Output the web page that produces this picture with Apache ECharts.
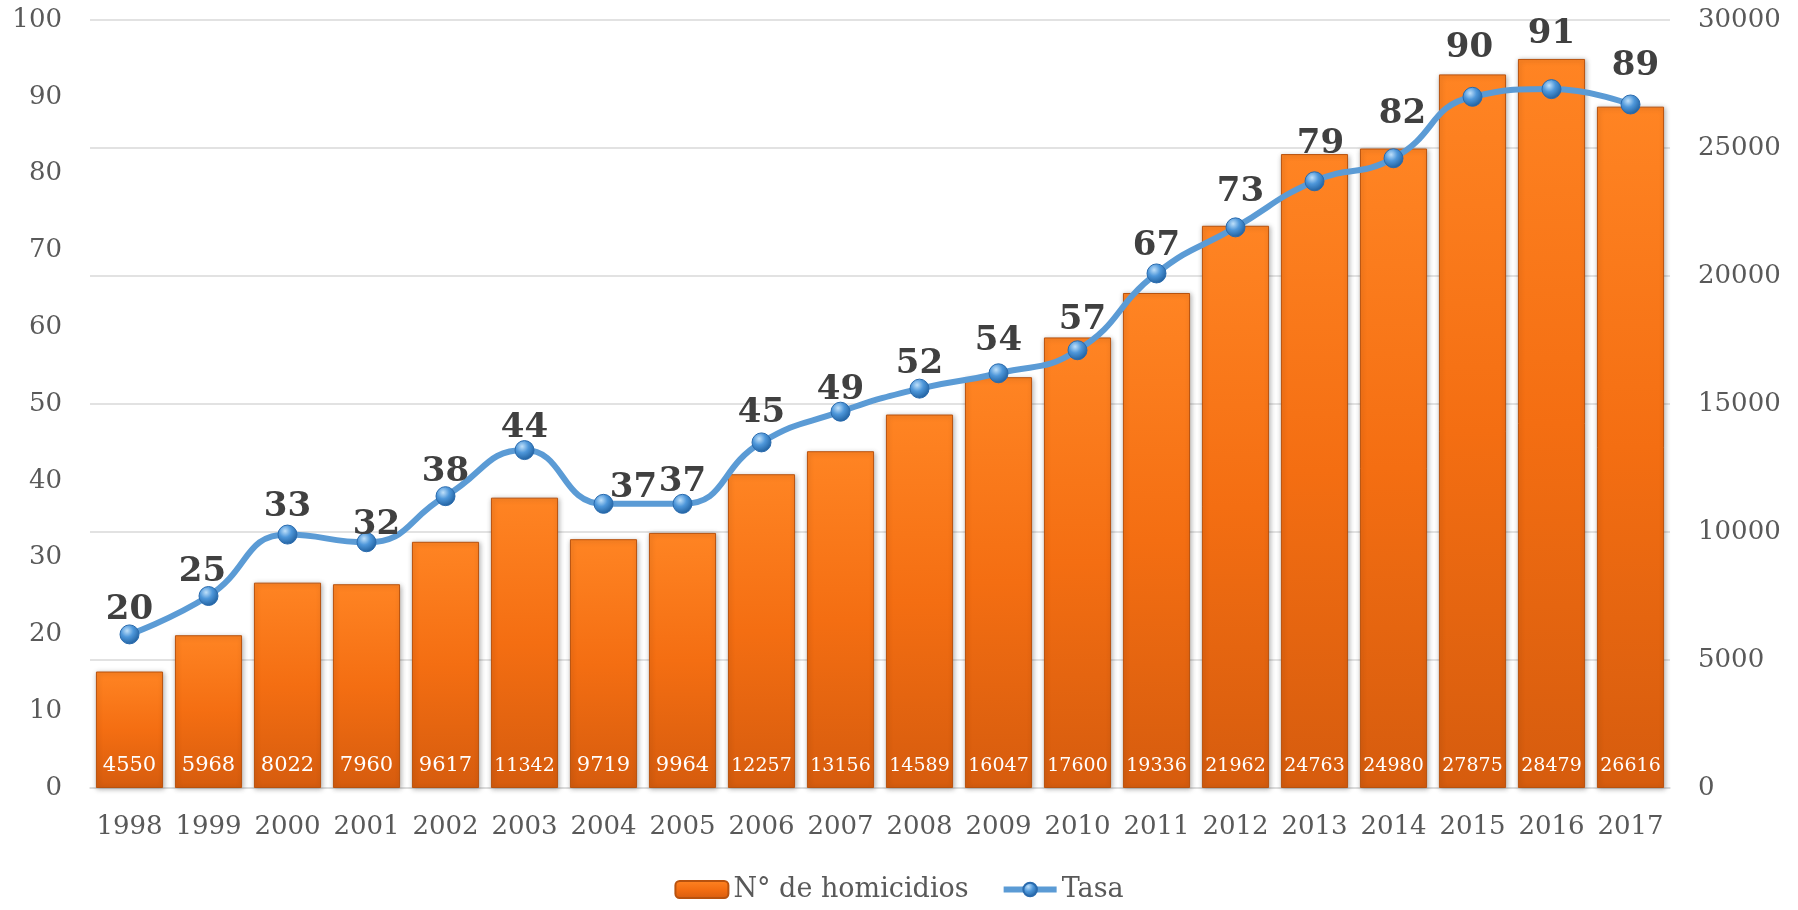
<!DOCTYPE html>
<html>
<head>
<meta charset="utf-8">
<title>Homicidios y tasa 1998-2017</title>
<script src="https://cdn.jsdelivr.net/npm/echarts@6/dist/echarts.min.js"></script>
<style>
  html, body { margin: 0; padding: 0; background: #ffffff; }
  #chart { width: 1798px; height: 910px; }
</style>
</head>
<body>
<div id="chart"></div>
<script>
// Years on the category axis
const years = ['1998','1999','2000','2001','2002','2003','2004','2005','2006','2007',
               '2008','2009','2010','2011','2012','2013','2014','2015','2016','2017'];
// Number of homicides per year (right axis)
const homicidios = [4550, 5968, 8022, 7960, 9617, 11342, 9719, 9964, 12257, 13156,
                    14589, 16047, 17600, 19336, 21962, 24763, 24980, 27875, 28479, 26616];
// Homicide rate per year (left axis)
const tasa = [20, 25, 33, 32, 38, 44, 37, 37, 45, 49, 52, 54, 57, 67, 73, 79, 82, 90, 91, 89];

// Hand-placed nudges [dx, dy] for the rate labels so they clear the curve
const labelNudge = {
  '1999': [-6, 0], '2000': [0, -3], '2001': [10, 7], '2003': [0, 2],
  '2004': [30, 8], '2005': [0, 2], '2006': [0, -5], '2007': [0, 2],
  '2009': [0, -8], '2010': [5, -6], '2011': [0, -3], '2012': [5, -11],
  '2013': [6, -13], '2014': [9, -20], '2015': [-3, -25], '2016': [0, -31],
  '2017': [5, -14]
};

const serif = 'DejaVu Serif';
const axisGrey = '#595959';

const chart = echarts.init(document.getElementById('chart'));

const barGradient = new echarts.graphic.LinearGradient(0, 0, 0, 1, [
  { offset: 0, color: '#FF8423' },
  { offset: 0.5, color: '#F46E12' },
  { offset: 1, color: '#D65C0E' }
]);
const dotGradient = new echarts.graphic.RadialGradient(0.38, 0.32, 0.7, [
  { offset: 0, color: '#BFE0FA' },
  { offset: 0.45, color: '#4E97DA' },
  { offset: 1, color: '#1F5F9E' }
]);

// Five-digit counts get a slightly smaller label so they fit inside the bar
const barData = homicidios.map(v => ({
  value: v,
  label: { fontSize: String(v).length > 4 ? 19 : 21 }
}));

const tasaData = tasa.map((v, i) => {
  const nudge = labelNudge[years[i]];
  return nudge ? { value: v, label: { offset: nudge } } : v;
});

chart.setOption({
  animation: false,
  backgroundColor: '#ffffff',
  textStyle: { fontFamily: serif },
  grid: { left: 90, right: 128, top: 20, bottom: 122 },
  legend: {
    bottom: 2,
    left: 'center',
    itemWidth: 53,
    itemHeight: 17,
    itemGap: 32,
    textStyle: { fontFamily: serif, fontSize: 27, color: axisGrey },
    data: [
      { name: 'N° de homicidios' },
      { name: 'Tasa', lineStyle: { width: 6, color: '#5B9BD5' } }
    ]
  },
  xAxis: {
    type: 'category',
    data: years,
    axisTick: { show: false },
    axisLine: { lineStyle: { color: '#d9d9d9', width: 1.5 } },
    axisLabel: { color: axisGrey, fontSize: 26, fontFamily: serif, margin: 26, interval: 0 }
  },
  yAxis: [
    {
      type: 'value',
      min: 0, max: 100, interval: 10,
      position: 'left',
      splitLine: { show: false },
      axisLine: { show: false },
      axisTick: { show: false },
      axisLabel: { color: axisGrey, fontSize: 26, fontFamily: serif, margin: 28 }
    },
    {
      type: 'value',
      min: 0, max: 30000, interval: 5000,
      position: 'right',
      splitLine: { show: true, lineStyle: { color: '#d9d9d9', width: 1.5 } },
      axisLine: { show: false },
      axisTick: { show: false },
      axisLabel: {
        color: axisGrey, fontSize: 26, fontFamily: serif, margin: 28,
        formatter: v => String(v)
      }
    }
  ],
  series: [
    {
      name: 'N° de homicidios',
      type: 'bar',
      yAxisIndex: 1,
      data: barData,
      barCategoryGap: '15%',
      itemStyle: {
        color: barGradient,
        borderColor: '#B8520E',
        borderWidth: 1,
        shadowColor: 'rgba(0,0,0,0.28)',
        shadowBlur: 5,
        shadowOffsetX: 1,
        shadowOffsetY: 1
      },
      label: {
        show: true,
        position: 'insideBottom',
        distance: 12,
        color: '#ffffff',
        fontFamily: serif,
        fontSize: 19
      },
      z: 2
    },
    {
      name: 'Tasa',
      type: 'line',
      yAxisIndex: 0,
      data: tasaData,
      smooth: 0.5,
      symbol: 'circle',
      symbolSize: 19,
      lineStyle: { color: '#5B9BD5', width: 6 },
      itemStyle: {
        color: dotGradient,
        borderColor: '#2A6BAE',
        borderWidth: 1
      },
      label: {
        show: true,
        position: 'top',
        distance: -3,
        color: '#404040',
        fontFamily: serif,
        fontWeight: 'bold',
        fontSize: 34
      },
      z: 5
    }
  ]
});
</script>
</body>
</html>
